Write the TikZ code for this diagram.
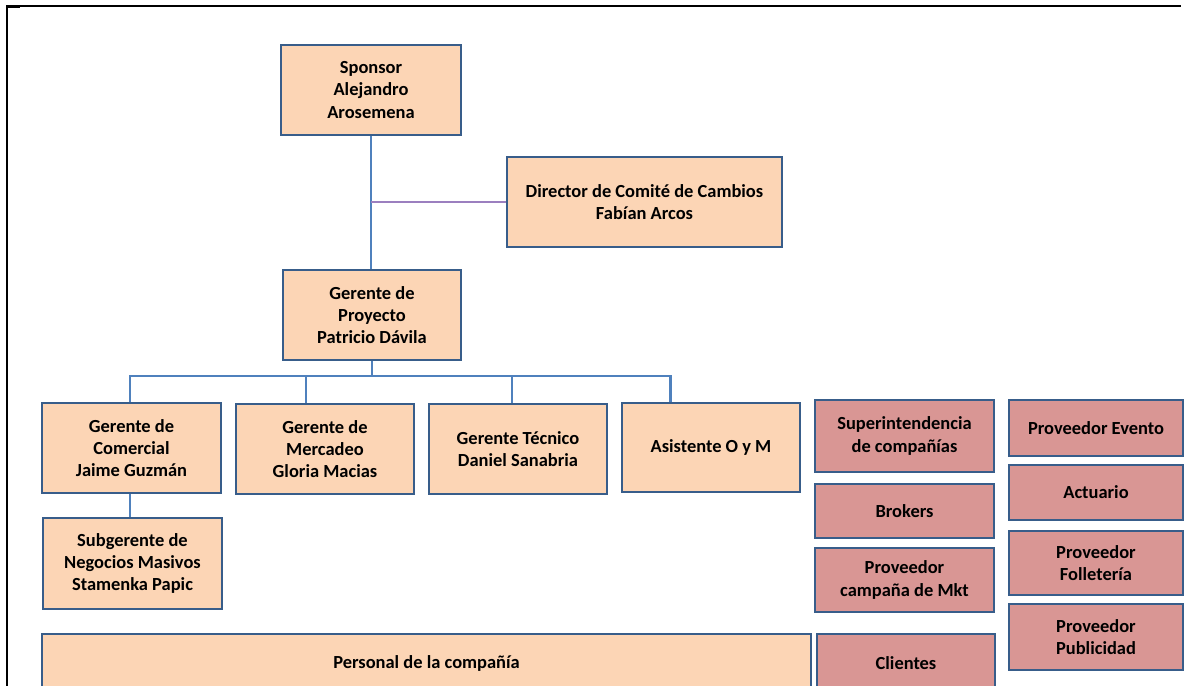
\documentclass[tikz,border=0pt]{standalone}
\usepackage{fontspec}
\setmainfont{Carlito}
\usepackage{xcolor}
\usetikzlibrary{positioning}
\definecolor{peach}{HTML}{FCD5B5}
\definecolor{rose}{HTML}{D99694}
\definecolor{edge}{HTML}{385D8A}
\definecolor{linkblue}{HTML}{4F81BD}
\definecolor{lilac}{HTML}{9B7FBF}

\begin{document}
\begin{tikzpicture}
[x=0.02cm,y=-0.02cm,
box/.style={rectangle,draw=edge,line width=1.3pt,fill=peach,align=center,inner sep=2pt,font=\bfseries\fontsize{10.5}{12.6}\selectfont},
ext/.style={box,fill=rose},
link/.style={draw=linkblue,line width=1.7pt},
side/.style={draw=lilac,line width=1.7pt}];
\useasboundingbox (0,0) rectangle (1184,686);
\clip (0,0) rectangle (1184,686);
\draw[line width=0.9pt] (6,6) -- (1181,6);
\draw[line width=0.9pt] (7,6) -- (7,686);
\draw[line width=1.6pt] (6,7) -- (20,7);

\node[box,minimum width=3.6cm,minimum height=1.8cm] (sponsor) at (371,90) {Sponsor\\Alejandro\\Arosemena};
\node[box,minimum width=5.5cm,minimum height=1.8cm] (director) at (644.5,202) {Director de Comité de Cambios\\Fabían Arcos};
\node[box,minimum width=3.56cm,minimum height=1.8cm] (proyecto) at (372,315) {Gerente de\\Proyecto\\Patricio Dávila};
\node[box,minimum width=3.58cm,minimum height=1.8cm] (comercial) at (131.5,448) {Gerente de\\Comercial\\Jaime Guzmán};
\node[box,minimum width=3.56cm,minimum height=1.8cm] (mercadeo) at (325,449) {Gerente de\\Mercadeo\\Gloria Macias};
\node[box,minimum width=3.56cm,minimum height=1.8cm] (tecnico) at (518,449) {Gerente Técnico\\Daniel Sanabria};
\node[box,minimum width=3.56cm,minimum height=1.78cm] (asistente) at (711,447.5) {Asistente O y M};
\node[box,minimum width=3.58cm,minimum height=1.82cm] (subgerente) at (132.5,563.5) {Subgerente de\\Negocios Masivos\\Stamenka Papic};
\node[box,minimum width=15.38cm,minimum height=1.16cm] (personal) at (426.5,663) {Personal de la compañía};

\node[ext,minimum width=3.58cm,minimum height=1.44cm] (superint) at (904.5,436) {Superintendencia\\de compañías};
\node[ext,minimum width=3.58cm,minimum height=1.08cm] (brokers) at (904.5,511) {Brokers};
\node[ext,minimum width=3.58cm,minimum height=1.28cm] (campana) at (904.5,580) {Proveedor\\campaña de Mkt};
\node[ext,minimum width=3.56cm,minimum height=1.16cm] (clientes) at (906,663) {Clientes};
\node[ext,minimum width=3.48cm,minimum height=1.12cm] (evento) at (1096,428) {Proveedor Evento};
\node[ext,minimum width=3.48cm,minimum height=1.1cm] (actuario) at (1096,492.5) {Actuario};
\node[ext,minimum width=3.48cm,minimum height=1.28cm] (folleteria) at (1096,563) {Proveedor\\Folletería};
\node[ext,minimum width=3.48cm,minimum height=1.32cm] (publicidad) at (1096,637) {Proveedor\\Publicidad};

\draw[link] (sponsor.south) -- (sponsor.south |- proyecto.north);
\draw[side] (director.west) -- (director.west -| sponsor.south);
\coordinate (bus) at (372,376);
\draw[link] (proyecto.south) -- (bus);
\draw[link] (bus) -| ([xshift=-0.03cm]comercial.north);
\draw[link] (bus) -| ([xshift=-0.38cm]mercadeo.north);
\draw[link] (bus) -| ([xshift=-0.12cm]tecnico.north);
\draw[link] (bus) -| ([xshift=-0.82cm]asistente.north);
\draw[link] ([xshift=-0.03cm]comercial.south) -- ([xshift=-0.03cm]comercial.south |- subgerente.north);
\end{tikzpicture}
\end{document}
